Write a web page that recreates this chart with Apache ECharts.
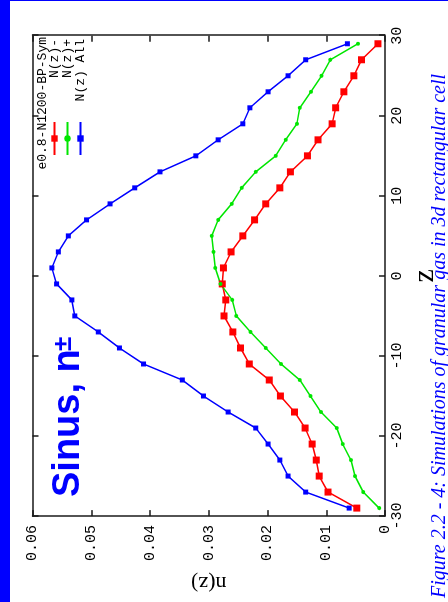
<!DOCTYPE html>
<html>
<head>
<meta charset="utf-8">
<script src="https://cdn.jsdelivr.net/npm/echarts@6/dist/echarts.min.js"></script>
<style>
  html, body { margin: 0; padding: 0; width: 448px; height: 602px; overflow: hidden; background: #fff; }
  #bar { position: absolute; left: 0; top: 0; width: 10px; height: 602px; background: #0000ff; }
  #topline { position: absolute; left: 0; top: 0; width: 448px; height: 1px; background: #0000ff; }
  /* the figure is laid out landscape and turned a quarter turn counter-clockwise */
  #chart { position: absolute; left: 0; top: 0; width: 602px; height: 448px;
           transform-origin: 0 0; transform: translate(0, 602px) rotate(-90deg); }
</style>
</head>
<body>
<div id="bar"></div>
<div id="topline"></div>
<div id="chart"></div>
<script>
// slab position z (cell centres)
const zPositions = [29, 27, 25, 23, 21, 19, 17, 15, 13, 11, 9, 7, 5, 3, 1,
                    -1, -3, -5, -7, -9, -11, -13, -15, -17, -19, -21, -23, -25, -27, -29];
// number density profiles
const nMinus = [0.0012, 0.0040, 0.0053, 0.0070, 0.0084, 0.0090, 0.0114, 0.0132, 0.0161, 0.0179,
                0.0203, 0.0222, 0.0242, 0.0262, 0.0275, 0.0277, 0.0271, 0.0274, 0.0259, 0.0246,
                0.0231, 0.0197, 0.0178, 0.0154, 0.0136, 0.0124, 0.0117, 0.0112, 0.0097, 0.0048];
const nPlus  = [0.0046, 0.0093, 0.0108, 0.0126, 0.0145, 0.0150, 0.0169, 0.0186, 0.0220, 0.0244,
                0.0261, 0.0284, 0.0295, 0.0292, 0.0289, 0.0280, 0.0260, 0.0253, 0.0229, 0.0203,
                0.0177, 0.0145, 0.0127, 0.0109, 0.0082, 0.0072, 0.0058, 0.0051, 0.0037, 0.0010];
const nAll   = [0.0064, 0.0135, 0.0165, 0.0199, 0.0230, 0.0242, 0.0284, 0.0322, 0.0383, 0.0426,
                0.0468, 0.0508, 0.0539, 0.0556, 0.0567, 0.0559, 0.0533, 0.0528, 0.0488, 0.0452,
                0.0411, 0.0345, 0.0309, 0.0267, 0.0220, 0.0199, 0.0179, 0.0165, 0.0135, 0.0061];
const seriesNames = ['N(z)-', 'N(z)+', 'N(z) All'];
const keyTitle = 'e0.8-N1200-BP-Sym';
const caption = 'Figure 2.2 - 4: Simulations of granular gas in 3d rectangular cell';

const mono = '"Liberation Mono", "DejaVu Sans Mono", monospace';
const serif = '"Liberation Serif", "DejaVu Serif", serif';
const sans = '"Liberation Sans", Arial, sans-serif';
const frame = '#1a1a1a';

const pairs = arr => zPositions.map((z, i) => [z, arr[i]]);

function lineSeries(name, values, color, symbol, size) {
  return {
    name, type: 'line', data: pairs(values),
    symbol, symbolSize: size, showSymbol: true,
    lineStyle: { color, width: 1.5 },
    itemStyle: { color, borderWidth: 0 },
    emphasis: { disabled: true },
    z: 3
  };
}

const tickCommon = { show: true, inside: true, length: 6, lineStyle: { color: frame, width: 1.5 } };
const lineCommon = { show: true, onZero: false, lineStyle: { color: frame, width: 1.5 } };

const chart = echarts.init(document.getElementById('chart'), null, { width: 602, height: 448 });
chart.setOption({
  animation: false,
  backgroundColor: 'transparent',
  title: [
    { text: keyTitle, right: 37, top: 36, padding: 0,
      textStyle: { fontFamily: mono, fontSize: 13, fontWeight: 'normal', color: '#000' } },
    { text: 'Sinus, n', left: 105, top: 50, padding: 0,
      textStyle: { fontFamily: sans, fontSize: 38, fontWeight: 'bold', color: '#0000ff' } },
    { text: '±', left: 251, top: 51, padding: 0,
      textStyle: { fontFamily: sans, fontSize: 26, fontWeight: 'bold', color: '#0000ff' } },
    { text: caption, left: 4, top: 430, padding: 0,
      textStyle: { fontFamily: serif, fontSize: 20, fontStyle: 'italic', fontWeight: 'normal', color: '#0000ff' } }
  ],
  legend: {
    orient: 'vertical', left: 446, top: 48, padding: 0,
    itemWidth: 33, itemHeight: 8, itemGap: 0,
    data: seriesNames,
    formatter: name => name.padStart(10, ' '),
    textStyle: { fontFamily: mono, fontSize: 13, color: '#000', lineHeight: 11.5 }
  },
  grid: { left: 78.75, right: 35.75, top: 32.5, bottom: 63, show: false },
  xAxis: [
    { type: 'value', min: -30, max: 30, interval: 10, position: 'bottom',
      axisLine: lineCommon, axisTick: tickCommon, splitLine: { show: false },
      axisLabel: { fontFamily: mono, fontSize: 15, color: '#000', margin: 5 },
      name: 'z', nameLocation: 'middle', nameGap: 10,
      nameTextStyle: { fontFamily: serif, fontSize: 30, color: '#000' } },
    { type: 'value', min: -30, max: 30, interval: 10, position: 'top',
      axisLine: lineCommon, axisTick: tickCommon, splitLine: { show: false },
      axisLabel: { show: false } }
  ],
  yAxis: [
    { type: 'value', min: 0, max: 0.06, interval: 0.01, position: 'left',
      axisLine: lineCommon, axisTick: tickCommon, splitLine: { show: false },
      axisLabel: { fontFamily: mono, fontSize: 15, color: '#000', margin: 9 },
      name: 'n(z)', nameLocation: 'middle', nameRotate: 90, nameGap: 44,
      nameTextStyle: { fontFamily: serif, fontSize: 22, color: '#000' } },
    { type: 'value', min: 0, max: 0.06, interval: 0.01, position: 'right',
      axisLine: lineCommon, axisTick: tickCommon, splitLine: { show: false },
      axisLabel: { show: false } }
  ],
  series: [
    lineSeries(seriesNames[0], nMinus, '#ff0000', 'rect', 7),
    lineSeries(seriesNames[1], nPlus, '#00e600', 'circle', 4),
    lineSeries(seriesNames[2], nAll, '#0000ff', 'rect', 5)
  ]
});
</script>
</body>
</html>
